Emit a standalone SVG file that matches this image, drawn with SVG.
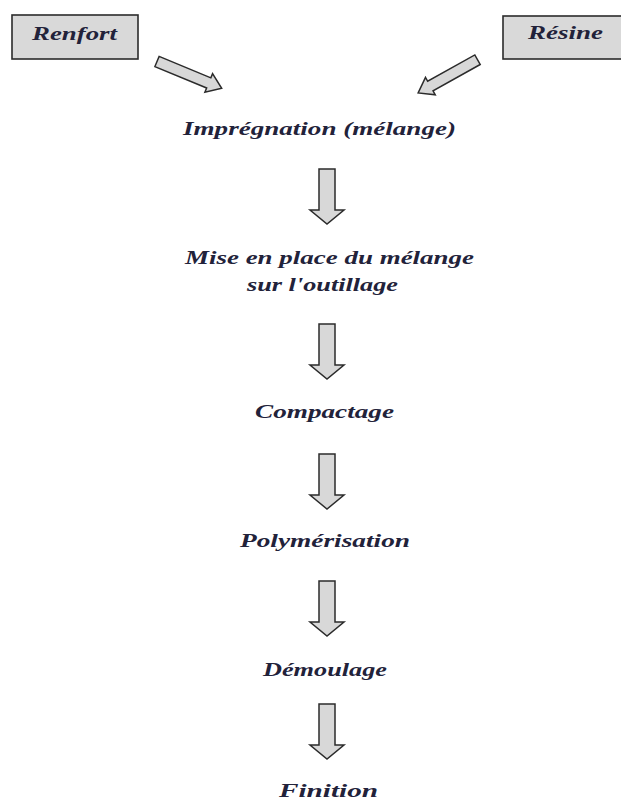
<svg xmlns="http://www.w3.org/2000/svg" width="621" height="802" viewBox="0 0 621 802">
  <style>
    .box { fill: #d9d9d9; stroke: #2b2b2b; stroke-width: 1.6; }
    .lbl { font-family: "Liberation Serif", "Times New Roman", serif; font-style: italic; font-weight: bold; font-size: 19px; fill: #22223a; }
    .arr { fill: #d8d8d8; stroke: #2b2b2b; stroke-width: 1.5; stroke-linejoin: miter; }
  </style>
  <defs>
    <!-- block arrow pointing down, origin at the top centre of the shaft -->
    <path id="down" d="M-8,0 H8 V41 H17 L0,55 L-17,41 H-8 Z"/>
  </defs>
  <rect width="621" height="802" fill="#ffffff"/>

  <g id="renfort">
    <rect class="box" x="12" y="15" width="126" height="44"/>
    <text class="lbl" x="32" y="40" textLength="85" lengthAdjust="spacingAndGlyphs" font-size="21">Renfort</text>
  </g>
  <g id="resine">
    <rect class="box" x="503" y="16" width="130" height="43"/>
    <text class="lbl" x="528" y="39" textLength="75" lengthAdjust="spacingAndGlyphs" font-size="21">Résine</text>
  </g>
  <g id="impregnation">
    <text class="lbl" x="183" y="135" textLength="273" lengthAdjust="spacingAndGlyphs">Imprégnation (mélange)</text>
  </g>
  <g id="mise-en-place">
    <text class="lbl" x="185" y="264" textLength="289" lengthAdjust="spacingAndGlyphs">Mise en place du mélange</text>
    <text class="lbl" x="247" y="291" textLength="151" lengthAdjust="spacingAndGlyphs">sur l'outillage</text>
  </g>
  <g id="compactage">
    <text class="lbl" x="255" y="418" textLength="139" lengthAdjust="spacingAndGlyphs">Compactage</text>
  </g>
  <g id="polymerisation">
    <text class="lbl" x="240" y="547" textLength="170" lengthAdjust="spacingAndGlyphs">Polymérisation</text>
  </g>
  <g id="demoulage">
    <text class="lbl" x="263" y="676" textLength="124" lengthAdjust="spacingAndGlyphs">Démoulage</text>
  </g>
  <g id="finition">
    <text class="lbl" x="279" y="797" textLength="99" lengthAdjust="spacingAndGlyphs">Finition</text>
  </g>

  <g id="connectors">
    <path class="arr" transform="translate(157,61.5) rotate(22.5)" d="M0,-5.5 H56 V-10 L70,0 L56,10 V5.5 H0 Z"/>
    <path class="arr" transform="translate(477.5,59.7) rotate(150.8)" d="M0,-5.5 H54 V-10 L68,0 L54,10 V5.5 H0 Z"/>
    <use class="arr" href="#down" x="327" y="169"/>
    <use class="arr" href="#down" x="327" y="324"/>
    <use class="arr" href="#down" x="327" y="454"/>
    <use class="arr" href="#down" x="327" y="581"/>
    <use class="arr" href="#down" x="327" y="704"/>
  </g>
</svg>
